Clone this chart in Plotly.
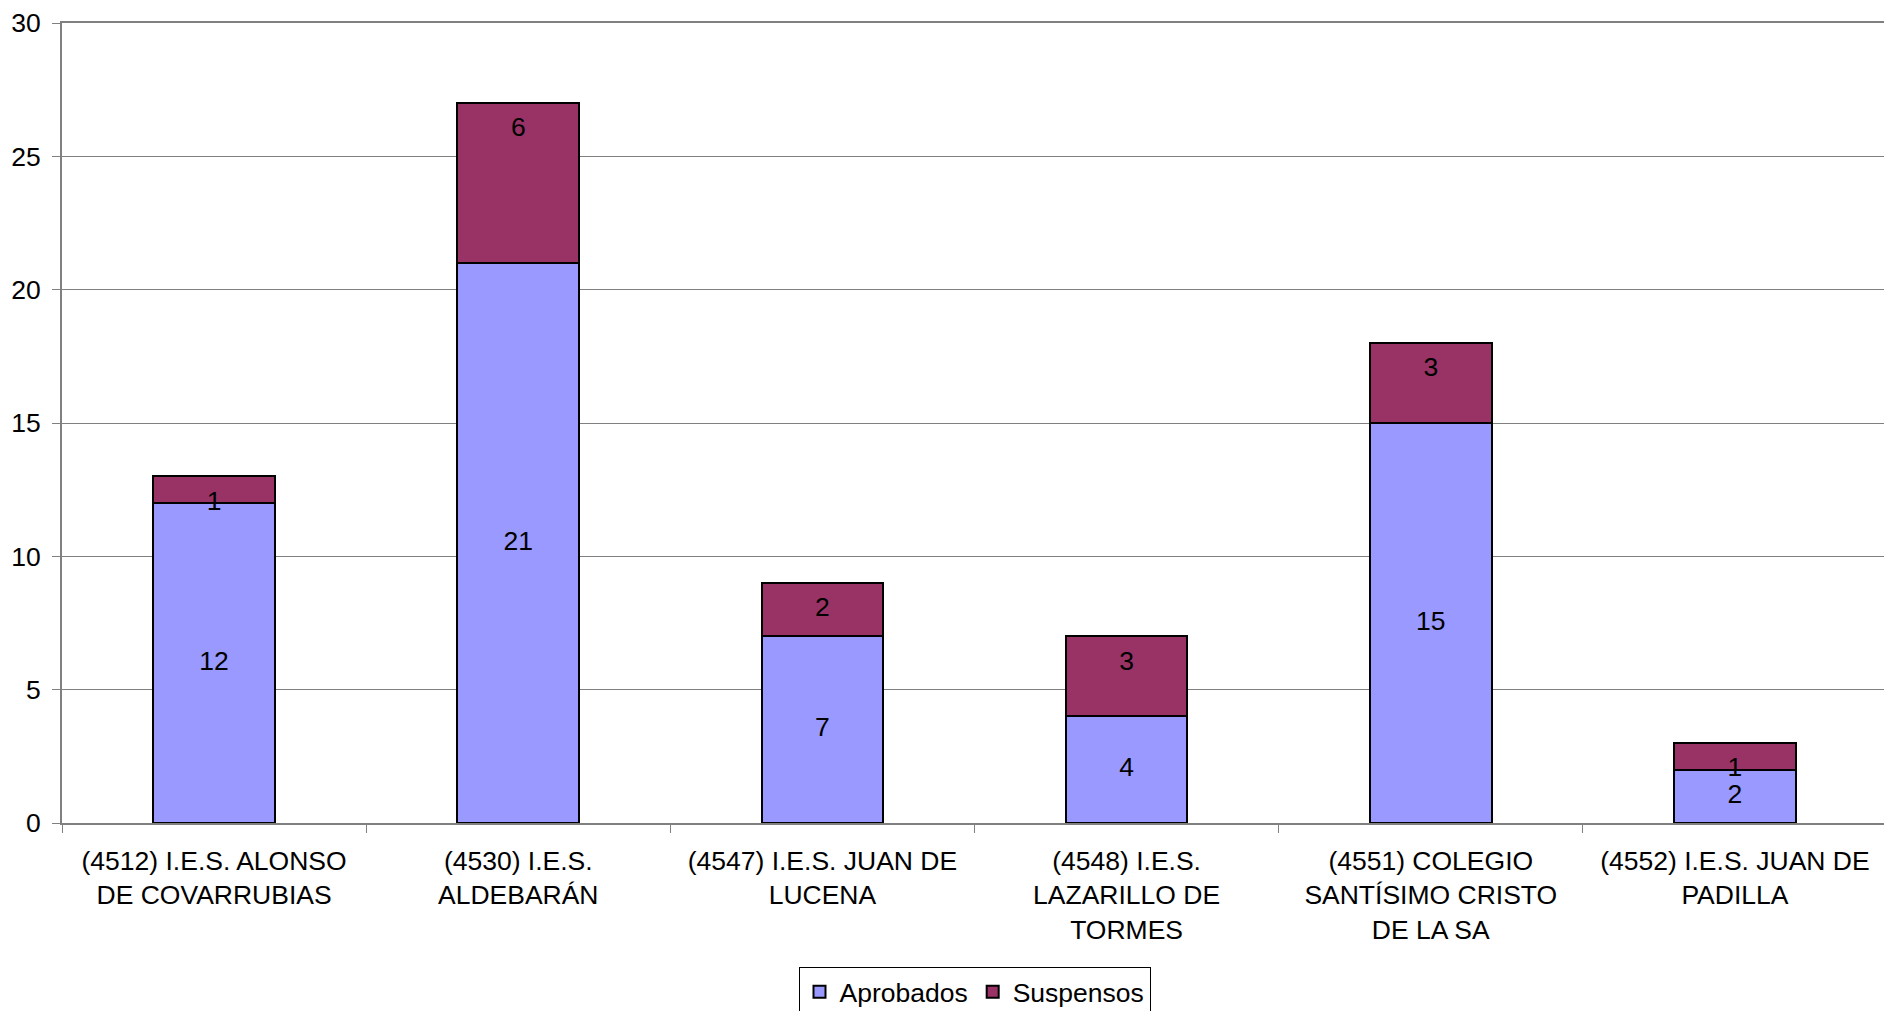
import plotly.graph_objects as go

categories = [
    "(4512) I.E.S. ALONSO<br>DE COVARRUBIAS",
    "(4530) I.E.S.<br>ALDEBARÁN",
    "(4547) I.E.S. JUAN DE<br>LUCENA",
    "(4548) I.E.S.<br>LAZARILLO DE<br>TORMES",
    "(4551) COLEGIO<br>SANTÍSIMO CRISTO<br>DE LA SA",
    "(4552) I.E.S. JUAN DE<br>PADILLA",
]
aprobados = [12, 21, 7, 4, 15, 2]
suspensos = [1, 6, 2, 3, 3, 1]
y_ticks = [0, 5, 10, 15, 20, 25, 30]

FONT = "Arial, Liberation Sans, sans-serif"
FS = 26.5

fig = go.Figure()
fig.add_trace(go.Bar(
    x=categories, y=aprobados, name="Aprobados",
    marker=dict(color="#9999FF", line=dict(color="#000000", width=2)),
    width=0.4, hoverinfo="y+name",
))
fig.add_trace(go.Bar(
    x=categories, y=suspensos, name="Suspensos",
    marker=dict(color="#993366", line=dict(color="#000000", width=2)),
    width=0.4, hoverinfo="y+name",
))
# data labels (Excel style placement)
fig.add_trace(go.Scatter(
    x=categories, y=[a / 2 for a in aprobados], mode="text",
    text=[str(a) for a in aprobados], textposition="middle center",
    textfont=dict(family=FONT, size=FS, color="#000000"),
    showlegend=False, hoverinfo="skip",
))
fig.add_trace(go.Scatter(
    x=categories, y=[a + s - 1 for a, s in zip(aprobados, suspensos)], mode="text",
    text=[str(s) for s in suspensos], textposition="middle center",
    textfont=dict(family=FONT, size=FS, color="#000000"),
    showlegend=False, hoverinfo="skip",
))

fig.update_layout(
    barmode="stack",
    width=1884, height=1003,
    margin=dict(l=54, r=5, t=15, b=188, autoexpand=False),
    paper_bgcolor="#FFFFFF", plot_bgcolor="#FFFFFF",
    font=dict(family=FONT, size=FS, color="#000000"),
    showlegend=True,
    legend=dict(
        orientation="h", x=0.5, xanchor="center", y=-0.18, yanchor="top",
        bordercolor="#000000", borderwidth=1,
        font=dict(family=FONT, size=FS, color="#000000"),
        itemwidth=30, traceorder="normal",
    ),
)
fig.update_xaxes(
    type="category", range=[-0.5, 5.5], automargin=False,
    showline=True, linecolor="#808080", linewidth=2, mirror=True,
    ticks="outside", ticklen=8, tickcolor="#808080", tickwidth=1,
    tickson="boundaries", showgrid=False,
    tickfont=dict(family=FONT, size=FS, color="#000000"),
    ticklabelstandoff=13, ticklabeloverflow="allow",
)
fig.update_yaxes(
    range=[0, 30], tickvals=y_ticks, automargin=False,
    showline=True, linecolor="#808080", linewidth=2, mirror=True,
    ticks="outside", ticklen=8, tickcolor="#808080", tickwidth=1,
    showgrid=True, gridcolor="#808080", gridwidth=1,
    zeroline=False,
    tickfont=dict(family=FONT, size=FS, color="#000000"),
    ticklabelstandoff=6, ticklabeloverflow="allow",
)

fig.write_html("out.html")
